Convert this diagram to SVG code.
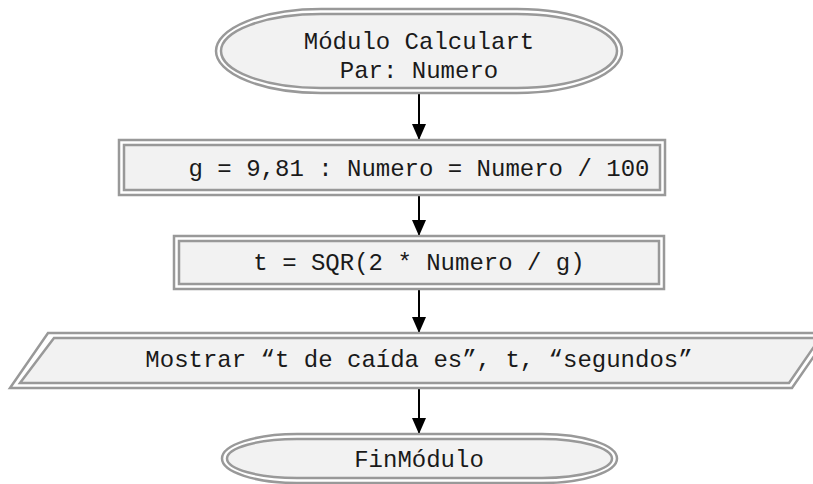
<svg xmlns="http://www.w3.org/2000/svg" width="813" height="484" viewBox="0 0 813 484">
  <style>
    .outer { fill: #ffffff; stroke: #999999; stroke-width: 2.5; }
    .inner { fill: #f2f2f2; stroke: #999999; stroke-width: 2.5; }
    .label { font-family: "Liberation Mono", "Courier New", monospace; font-size: 24px; fill: #1a1a1a; text-anchor: middle; }
    .flow { stroke: #000000; stroke-width: 2; fill: none; }
  </style>
  <defs>
    <marker id="arrow" viewBox="0 0 16 14" refX="16" refY="7" markerWidth="16" markerHeight="14" markerUnits="userSpaceOnUse" orient="auto">
      <path d="M0,0 L16,7 L0,14 Z" fill="#000000"/>
    </marker>
  </defs>

  <!-- connectors -->
  <g id="conectores">
    <line class="flow" x1="419" y1="93" x2="419" y2="140" marker-end="url(#arrow)"/>
    <line class="flow" x1="419" y1="195" x2="419" y2="236" marker-end="url(#arrow)"/>
    <line class="flow" x1="419" y1="289" x2="419" y2="333" marker-end="url(#arrow)"/>
    <line class="flow" x1="419" y1="388" x2="419" y2="434" marker-end="url(#arrow)"/>
  </g>

  <!-- start terminator -->
  <g id="inicio">
    <rect class="outer" x="216" y="9" width="406" height="84" rx="105" ry="42"/>
    <rect class="inner" x="221" y="14" width="396" height="74" rx="100" ry="37"/>
    <text class="label" x="419" y="49">Módulo Calculart</text>
    <text class="label" x="419" y="78">Par: Numero</text>
  </g>

  <!-- assignment: g and Numero -->
  <g id="asignacion1">
    <rect class="outer" x="119" y="140" width="546" height="55"/>
    <rect class="inner" x="124" y="145" width="536" height="45"/>
    <text class="label" x="419" y="176">g = 9,81 : Numero = Numero / 100</text>
  </g>

  <!-- assignment: t -->
  <g id="asignacion2">
    <rect class="outer" x="174" y="236" width="490" height="53"/>
    <rect class="inner" x="179" y="241" width="480" height="43"/>
    <text class="label" x="419" y="270">t = SQR(2 * Numero / g)</text>
  </g>

  <!-- output -->
  <g id="salida">
    <polygon class="outer" points="48,333 830,333 792,388 10,388"/>
    <polygon class="inner" points="54,338 820,338 789,383 20,383"/>
    <text class="label" x="419" y="367">Mostrar “t de caída es”, t, “segundos”</text>
  </g>

  <!-- end terminator -->
  <g id="fin">
    <rect class="outer" x="222" y="434" width="395" height="49" rx="75" ry="24.5"/>
    <rect class="inner" x="227" y="439" width="385" height="39" rx="70" ry="19.5"/>
    <text class="label" x="419" y="467">FinMódulo</text>
  </g>
</svg>
